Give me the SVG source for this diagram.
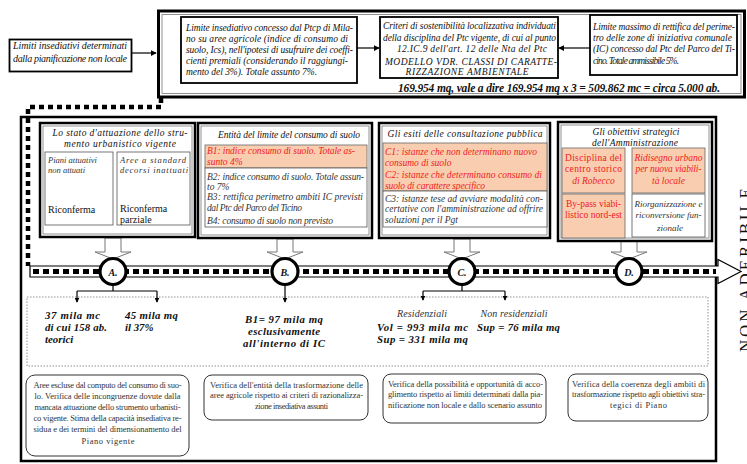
<svg xmlns="http://www.w3.org/2000/svg" width="747" height="464" viewBox="0 0 747 464" font-family="'Liberation Serif', 'Times New Roman', serif">
<style>
  text { font-family: "Liberation Serif", "Times New Roman", serif; fill: #111; }
  .i { font-style: italic; }
  .b { font-weight: bold; }
  .f10 { font-size: 10px; }
  .f95 { font-size: 9.5px; }
  .f9 { font-size: 9px; }
  .f85 { font-size: 8.5px; }
  .f12 { font-size: 10.8px; }
  .red { fill: #ee1c1c; }
  .grey { fill: #333; }
  .thick { fill: #fff; stroke: #000; stroke-width: 2.5; }
  .inner { fill: none; stroke: #777; stroke-width: 0.8; }
  .box { fill: #fff; stroke: #000; stroke-width: 1.8; }
  .sub { fill: #fff; stroke: #555; stroke-width: 0.8; }
  .hl { fill: #f9cdb0; stroke: #666; stroke-width: 0.8; }
  .rbox { fill: #fff; stroke: #333; stroke-width: 1; }
  .wire { fill: none; stroke: #000; stroke-width: 1.2; }
  .block { fill: #fff; stroke: #777; stroke-width: 1; }
  .mid { text-anchor: middle; }
</style>
<defs>
  <marker id="tip" viewBox="0 0 8 8" refX="7" refY="4" markerWidth="6" markerHeight="6" markerUnits="userSpaceOnUse" orient="auto">
    <path d="M0 0 L8 4 L0 8 Z" fill="#000"/>
  </marker>
  <marker id="tipSmall" viewBox="0 0 8 8" refX="7" refY="4" markerWidth="5" markerHeight="5" markerUnits="userSpaceOnUse" orient="auto">
    <path d="M0 0 L8 4 L0 8 Z" fill="#000"/>
  </marker>
</defs>

<!-- outer frames -->
<g id="frame-top">
  <rect x="158.5" y="11" width="586" height="86" fill="none" stroke="#000" stroke-width="3"/>
  <rect x="162" y="14.5" width="579" height="79" class="inner"/>
</g>
<g id="frame-main">
  <rect x="21" y="117" width="695" height="344" fill="none" stroke="#000" stroke-width="2.5"/>
</g>
<g id="frame-results">
  <rect x="27" y="297" width="681" height="69" fill="none" stroke="#777" stroke-width="0.8" stroke-dasharray="1.5 1.5"/>
</g>

<!-- connectors -->
<g id="connectors">
  <path d="M132 53 H156" class="wire" marker-end="url(#tip)"/>
  <path d="M357 48 H379" class="wire" marker-end="url(#tip)"/>
  <path d="M590 48 H559" class="wire" marker-end="url(#tip)"/>
  <path d="M161 98 V107 H28 V266" fill="none" stroke="#000" stroke-width="4.5" stroke-dasharray="5 4"/>
  <!-- timeline band -->
  <path d="M30 266 H718 V259.5 L741 271.5 L718 283.5 V277 H30 Z" fill="#fff" stroke="#000" stroke-width="1.2"/>
  <path d="M33 271.5 H716" stroke="#000" stroke-width="5" stroke-dasharray="6 4"/>
  <!-- block arrows into the timeline -->
  <polygon class="block" points="105,238 121,238 121,252 131,252 113,259 95,252 105,252"/>
  <polygon class="block" points="277,239 293,239 293,252 303,252 285,259 267,252 277,252"/>
  <polygon class="block" points="454,239 470,239 470,252 480,252 462,259 444,252 454,252"/>
  <polygon class="block" points="621,241 637,241 637,252 647,252 629,259 611,252 621,252"/>
  <!-- branches below the milestones -->
  <path d="M113 285 V291 M77 291 H157" class="wire"/>
  <path d="M77 291 V302" class="wire" marker-end="url(#tipSmall)"/>
  <path d="M157 291 V302" class="wire" marker-end="url(#tipSmall)"/>
  <path d="M285 285 V302" class="wire" marker-end="url(#tipSmall)"/>
  <path d="M462 285 V291 M423 291 H505" class="wire"/>
  <path d="M423 291 V300" class="wire" marker-end="url(#tipSmall)"/>
  <path d="M505 291 V300" class="wire" marker-end="url(#tipSmall)"/>
</g>

<!-- milestones -->
<g id="milestone-a">
  <circle cx="113" cy="271.5" r="13" fill="#fff" stroke="#000" stroke-width="3.2"/>
  <text x="113" y="275.5" class="mid i b f10">A.</text>
</g>
<g id="milestone-b">
  <circle cx="285" cy="271.5" r="13" fill="#fff" stroke="#000" stroke-width="3.2"/>
  <text x="285" y="275.5" class="mid i b f10">B.</text>
</g>
<g id="milestone-c">
  <circle cx="462" cy="271.5" r="13" fill="#fff" stroke="#000" stroke-width="3.2"/>
  <text x="462" y="275.5" class="mid i b f10">C.</text>
</g>
<g id="milestone-d">
  <circle cx="629" cy="271.5" r="13" fill="#fff" stroke="#000" stroke-width="3.2"/>
  <text x="629" y="275.5" class="mid i b f10">D.</text>
</g>

<!-- upper row: limits -->
<g id="limiti-non-locali">
  <rect x="9.5" y="39.5" width="122" height="32" class="box"/>
  <text x="70" y="49" class="mid i f10" textLength="114">Limiti insediativi determinati</text>
  <text x="70" y="61.5" class="mid i f10" textLength="114">dalla pianificazione non locale</text>
</g>
<g id="limite-ptcp">
  <rect x="181" y="17" width="176" height="66" class="box"/>
  <text x="186" y="31" class="i f95" textLength="167">Limite insediativo concesso dal Ptcp di Mila-</text>
  <text x="186" y="42" class="i f95" textLength="162">no su aree agricole (indice di consumo di</text>
  <text x="186" y="53" class="i f95" textLength="167">suolo, Ics), nell'ipotesi di usufruire dei coeffi-</text>
  <text x="186" y="64" class="i f95" textLength="162">cienti premiali (considerando il raggiungi-</text>
  <text x="186" y="75" class="i f95" textLength="131">mento del 3%). Totale assunto 7%.</text>
</g>
<g id="criteri-ptc">
  <rect x="380" y="17" width="178" height="61" class="box"/>
  <text x="383" y="29" class="i f95" textLength="173">Criteri di sostenibilità localizzativa individuati</text>
  <text x="383" y="41" class="i f95" textLength="173">della disciplina del Ptc vigente, di cui al punto</text>
  <text x="472" y="52" class="mid i f95" textLength="150">12.IC.9 dell'art. 12 delle Nta del Ptc</text>
  <text x="471" y="65" class="mid i f95" textLength="172">MODELLO VDR. CLASSI DI CARATTE-</text>
  <text x="467" y="75" class="mid i f95" textLength="123">RIZZAZIONE AMBIENTALE</text>
</g>
<g id="rettifica-parco">
  <rect x="590" y="15" width="147" height="60" class="box"/>
  <text x="593" y="30" class="i f95" textLength="142">Limite massimo di rettifica del perime-</text>
  <text x="593" y="41" class="i f95" textLength="139">tro delle zone di iniziativa comunale</text>
  <text x="593" y="52" class="i f95" textLength="142">(IC) concesso dal Ptc del Parco del Ti-</text>
  <text x="593" y="64" class="i f95" textLength="86">cino. Totale ammissibile 5%.</text>
</g>
<g id="capacita">
  <text x="398" y="92" class="i b" font-size="11.5" textLength="322">169.954 mq, vale a dire 169.954 mq x 3 = 509.862 mc = circa 5.000 ab.</text>
</g>

<!-- column A -->
<g id="col-a">
  <rect x="40" y="123" width="155" height="114" class="thick"/>
  <rect x="43" y="126" width="149" height="108" class="inner"/>
  <text x="120" y="136" class="mid i f95" textLength="135">Lo stato d'attuazione dello stru-</text>
  <text x="120" y="147" class="mid i f95" textLength="112">mento urbanistico vigente</text>
  <rect x="45" y="152" width="68" height="73" class="sub"/>
  <rect x="117" y="152" width="73" height="73" class="sub"/>
  <text x="48" y="162.5" class="i f85 grey">Piani attuativi</text>
  <text x="48" y="172.5" class="i f85 grey">non attuati</text>
  <text x="48" y="213" class="f10">Riconferma</text>
  <text x="120" y="162.5" class="i f85 grey" textLength="66">Aree a standard</text>
  <text x="120" y="172.5" class="i f85 grey" textLength="68">decorsi inattuati</text>
  <text x="120" y="212" class="f10">Riconferma</text>
  <text x="120" y="223" class="f10">parziale</text>
</g>

<!-- column B -->
<g id="col-b">
  <rect x="198" y="123" width="174" height="115" class="thick"/>
  <rect x="201" y="126" width="168" height="109" class="inner"/>
  <text x="289" y="138" class="mid i f95" textLength="142">Entità del limite del consumo di suolo</text>
  <rect x="205" y="145" width="162" height="23" class="hl"/>
  <text x="207" y="153.5" class="i f95 red" textLength="148">B1: indice consumo di suolo. Totale as-</text>
  <text x="207" y="165" class="i f95 red">sunto 4%</text>
  <rect x="205" y="168" width="162" height="59" class="sub"/>
  <text x="207" y="179.5" class="i f95 grey" textLength="157">B2: indice consumo di suolo. Totale assun-</text>
  <text x="207" y="189.5" class="i f95 grey">to 7%</text>
  <text x="207" y="200" class="i f95 grey" textLength="156">B3: rettifica perimetro ambiti IC previsti</text>
  <text x="207" y="210.5" class="i f95 grey" textLength="95">dal Ptc del Parco del Ticino</text>
  <text x="207" y="224" class="i f95 grey" textLength="126">B4: consumo di suolo non previsto</text>
</g>

<!-- column C -->
<g id="col-c">
  <rect x="379" y="123" width="171" height="115" class="thick"/>
  <rect x="382" y="126" width="165" height="109" class="inner"/>
  <text x="465" y="136.5" class="mid i f95" textLength="155">Gli esiti delle consultazione pubblica</text>
  <rect x="383" y="143" width="164" height="48" class="hl"/>
  <text x="385" y="155" class="i f95 red" textLength="152">C1: istanze che non determinano nuovo</text>
  <text x="385" y="166" class="i f95 red">consumo di suolo</text>
  <text x="385" y="177.5" class="i f95 red" textLength="157">C2: istanze che determinano consumo di</text>
  <text x="385" y="189" class="i f95 red" textLength="100">suolo di carattere specifico</text>
  <rect x="383" y="191" width="164" height="36" class="sub"/>
  <text x="385" y="201.5" class="i f95 grey" textLength="158">C3: istanze tese ad avviare modalità con-</text>
  <text x="385" y="212" class="i f95 grey" textLength="158">certative con l'amministrazione ad offrire</text>
  <text x="385" y="222.5" class="i f95 grey" textLength="73">soluzioni per il Pgt</text>
</g>

<!-- column D -->
<g id="col-d">
  <rect x="558" y="122" width="154" height="119" class="thick"/>
  <rect x="561" y="125" width="148" height="113" class="inner"/>
  <text x="636" y="135" class="mid i f95" textLength="87">Gli obiettivi strategici</text>
  <text x="635" y="146" class="mid i f95" textLength="86">dell'Amministrazione</text>
  <rect x="562" y="148" width="63" height="45" class="hl"/>
  <rect x="632" y="148" width="73" height="45" class="hl"/>
  <rect x="562" y="194" width="63" height="44" class="hl"/>
  <rect x="632" y="194" width="73" height="43" class="sub"/>
  <text x="593.5" y="161" class="mid f95 red" textLength="57">Disciplina del</text>
  <text x="593.5" y="172" class="mid f95 red" textLength="57">centro storico</text>
  <text x="593.5" y="184" class="mid i f95 red">di Robecco</text>
  <text x="668.5" y="161" class="mid i f95 red" textLength="68">Ridisegno urbano</text>
  <text x="668.5" y="172" class="mid i f95 red" textLength="66">per nuova viabili-</text>
  <text x="668.5" y="184" class="mid i f95 red">tà locale</text>
  <text x="593.5" y="207" class="mid f95 red" textLength="55">By-pass viabi-</text>
  <text x="593.5" y="217.5" class="mid f95 red" textLength="57">listico nord-est</text>
  <text x="668.5" y="207" class="mid i f9 grey" textLength="68">Riorganizzazione e</text>
  <text x="668.5" y="218" class="mid i f9 grey" textLength="66">riconversione fun-</text>
  <text x="670" y="231" class="mid i f9 grey">zionale</text>
</g>

<!-- results -->
<g id="result-a">
  <text x="45" y="319" class="i b f12" textLength="55">37 mila mc</text>
  <text x="45" y="331" class="i b f12" textLength="62">di cui 158 ab.</text>
  <text x="45" y="343" class="i b f12">teorici</text>
  <text x="125" y="319" class="i b f12" textLength="53">45 mila mq</text>
  <text x="125" y="331" class="i b f12">il 37%</text>
</g>
<g id="result-b">
  <text x="284" y="323" class="mid i b f12" textLength="78">B1= 97 mila mq</text>
  <text x="284" y="335" class="mid i b f12" textLength="72">esclusivamente</text>
  <text x="284" y="347" class="mid i b f12" textLength="82">all'interno di IC</text>
</g>
<g id="result-c">
  <text x="422" y="316.5" class="mid i f10 grey" textLength="50">Residenziali</text>
  <text x="514" y="316.5" class="mid i f10 grey" textLength="67">Non residenziali</text>
  <text x="377" y="330.5" class="i b f12" textLength="91">Vol = 993 mila mc</text>
  <text x="477" y="330.5" class="i b f12" textLength="83">Sup = 76 mila mq</text>
  <text x="377" y="343" class="i b f12" textLength="91">Sup = 331 mila mq</text>
</g>

<!-- verification notes -->
<g id="verifica-a">
  <rect x="26" y="375" width="163" height="81" rx="9" class="rbox"/>
  <text x="107.5" y="388" class="mid f85 grey" textLength="148">Aree escluse dal computo del consumo di suo-</text>
  <text x="107.5" y="399" class="mid f85 grey" textLength="146">lo. Verifica delle incongruenze dovute dalla</text>
  <text x="107.5" y="410" class="mid f85 grey" textLength="146">mancata attuazione dello strumento urbanisti-</text>
  <text x="107.5" y="421" class="mid f85 grey" textLength="148">co vigente. Stima della capacità insediativa re-</text>
  <text x="107.5" y="432" class="mid f85 grey" textLength="148">sidua e dei termini del dimensionamento del</text>
  <text x="108" y="443.5" class="mid f85 grey" textLength="53">Piano vigente</text>
</g>
<g id="verifica-b">
  <rect x="204" y="375" width="164" height="45" rx="8" class="rbox"/>
  <text x="286.5" y="387.5" class="mid f85 grey" textLength="153">Verifica dell'entità della trasformazione delle</text>
  <text x="286.5" y="397.5" class="mid f85 grey" textLength="153">aree agricole rispetto ai criteri di razionalizza-</text>
  <text x="291.5" y="408.5" class="mid f85 grey" textLength="73">zione insediativa assunti</text>
</g>
<g id="verifica-c">
  <rect x="383" y="374" width="163" height="49" rx="8" class="rbox"/>
  <text x="465.5" y="386.5" class="mid f85 grey" textLength="155">Verifica della possibilità e opportunità di acco-</text>
  <text x="465.5" y="397" class="mid f85 grey" textLength="155">glimento rispetto ai limiti determinati dalla pia-</text>
  <text x="465" y="408" class="mid f85 grey" textLength="154">nificazione non locale e dallo scenario assunto</text>
</g>
<g id="verifica-d">
  <rect x="568" y="374" width="140" height="47" rx="8" class="rbox"/>
  <text x="638.5" y="386.5" class="mid f85 grey" textLength="133">Verifica della coerenza degli ambiti di</text>
  <text x="638.5" y="397" class="mid f85 grey" textLength="133">trasformazione rispetto agli obiettivi stra-</text>
  <text x="638.5" y="408" class="mid f85 grey" textLength="57">tegici di Piano</text>
</g>

<!-- side label, running bottom-to-top along the right edge -->
<g id="side-label">
  <text transform="translate(751,352) rotate(-90)" font-size="17" textLength="164">NON ADERIBILE</text>
</g>
</svg>
